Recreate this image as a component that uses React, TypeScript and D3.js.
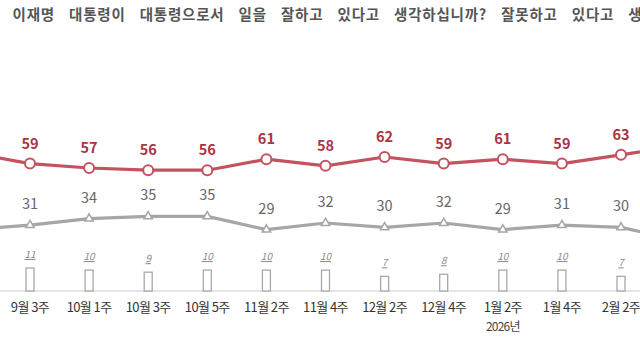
import React from "react";
import * as d3 from "d3";

const categories = ["9월 1주", "9월 3주", "10월 1주", "10월 3주", "10월 5주", "11월 2주", "11월 4주", "12월 2주", "12월 4주", "1월 2주", "1월 4주", "2월 2주", "2월 4주"];
const approve = [64, 59, 57, 56, 56, 61, 58, 62, 59, 61, 59, 63, 67];
const disapprove = [29, 31, 34, 35, 35, 29, 32, 30, 32, 29, 31, 30, 24];
const dontKnow = [7, 11, 10, 9, 10, 10, 10, 7, 8, 10, 10, 7, 9];
const visibleLabels = [false, true, true, true, true, true, true, true, true, true, true, true, false];
const yearNote = { category: "1월 2주", text: "2026년" };
const title = "귀하는 이재명 대통령이 대통령으로서 일을 잘하고 있다고 생각하십니까? 잘못하고 있다고 생각하십니까?";

const W = 640, H = 360;
const FONT = "'Noto Sans CJK KR', 'Noto Sans', sans-serif";

export default function App() {
  const step = 59.1;
  const x = d3.scalePoint<string>().domain(categories).range([30 - step, 30 + step * (categories.length - 2)]);
  const y = d3.scaleLinear().domain([29, 63]).range([229.6, 154.8]);
  const baseY = 291;
  const hScale = d3.scaleLinear().domain([0, 11]).range([0, 23]);

  const line = d3.line<number>().x((_, i) => x(categories[i])!).y((d) => y(d));
  const redPath = line(approve)!;
  const grayPath = line(disapprove)!;
  const tri = d3.symbol().type(d3.symbolTriangle).size(30)()!;

  return (
    <svg width={W} height={H} style={{ position: "absolute", left: 0, top: 0, background: "#fff" }} fontFamily={FONT}>
      <rect x={0} y={0} width={W} height={H} fill="#fff" />
      <text x={-44} y={20} fontSize={14.5} fontWeight={700} fill="#555" letterSpacing={0.8} wordSpacing={10}>{title}</text>

      <line x1={0} x2={W} y1={baseY} y2={baseY} stroke="#dcdcdc" strokeWidth={1.5} />

      {dontKnow.map((v, i) => {
        const cx = x(categories[i])!;
        const h = hScale(v);
        return (
          <g key={"b" + i}>
            <rect x={cx - 4} y={baseY - h} width={8} height={h} fill="#fff" stroke="#a8a8a8" strokeWidth={1.3} />
            {visibleLabels[i] ? (
              <text x={cx} y={baseY - h - 10} textAnchor="middle" fontSize={10} fontStyle="italic" fill="#8a8a8a" textDecoration="underline">{v}</text>
            ) : null}
          </g>
        );
      })}

      <path d={grayPath} fill="none" stroke="#a6a6a6" strokeWidth={3.2} strokeLinejoin="round" />
      <path d={redPath} fill="none" stroke="#c4525f" strokeWidth={3.2} strokeLinejoin="round" />

      {disapprove.map((v, i) => {
        if (!visibleLabels[i]) return null;
        const cx = x(categories[i])!;
        const cy = y(v);
        return (
          <g key={"g" + i}>
            <path d={tri} transform={`translate(${cx},${cy})`} fill="#fff" stroke="#a6a6a6" strokeWidth={1.5} />
            <text x={cx} y={cy - 16} textAnchor="middle" fontSize={14.5} fill="#666">{v}</text>
          </g>
        );
      })}

      {approve.map((v, i) => {
        if (!visibleLabels[i]) return null;
        const cx = x(categories[i])!;
        const cy = y(v);
        return (
          <g key={"r" + i}>
            <circle cx={cx} cy={cy} r={5} fill="#fff" stroke="#c4525f" strokeWidth={2} />
            <text x={cx} y={cy - 15} textAnchor="middle" fontSize={14.5} fontWeight={700} fill="#a93444">{v}</text>
          </g>
        );
      })}

      {categories.map((c, i) =>
        visibleLabels[i] ? (
          <text key={"x" + i} x={x(c)!} y={312} textAnchor="middle" fontSize={13} fill="#333" letterSpacing={-0.6}>{c}</text>
        ) : null
      )}
      <text x={x(yearNote.category)!} y={331} textAnchor="middle" fontSize={12} fill="#444" letterSpacing={-0.8}>{yearNote.text}</text>
    </svg>
  );
}
